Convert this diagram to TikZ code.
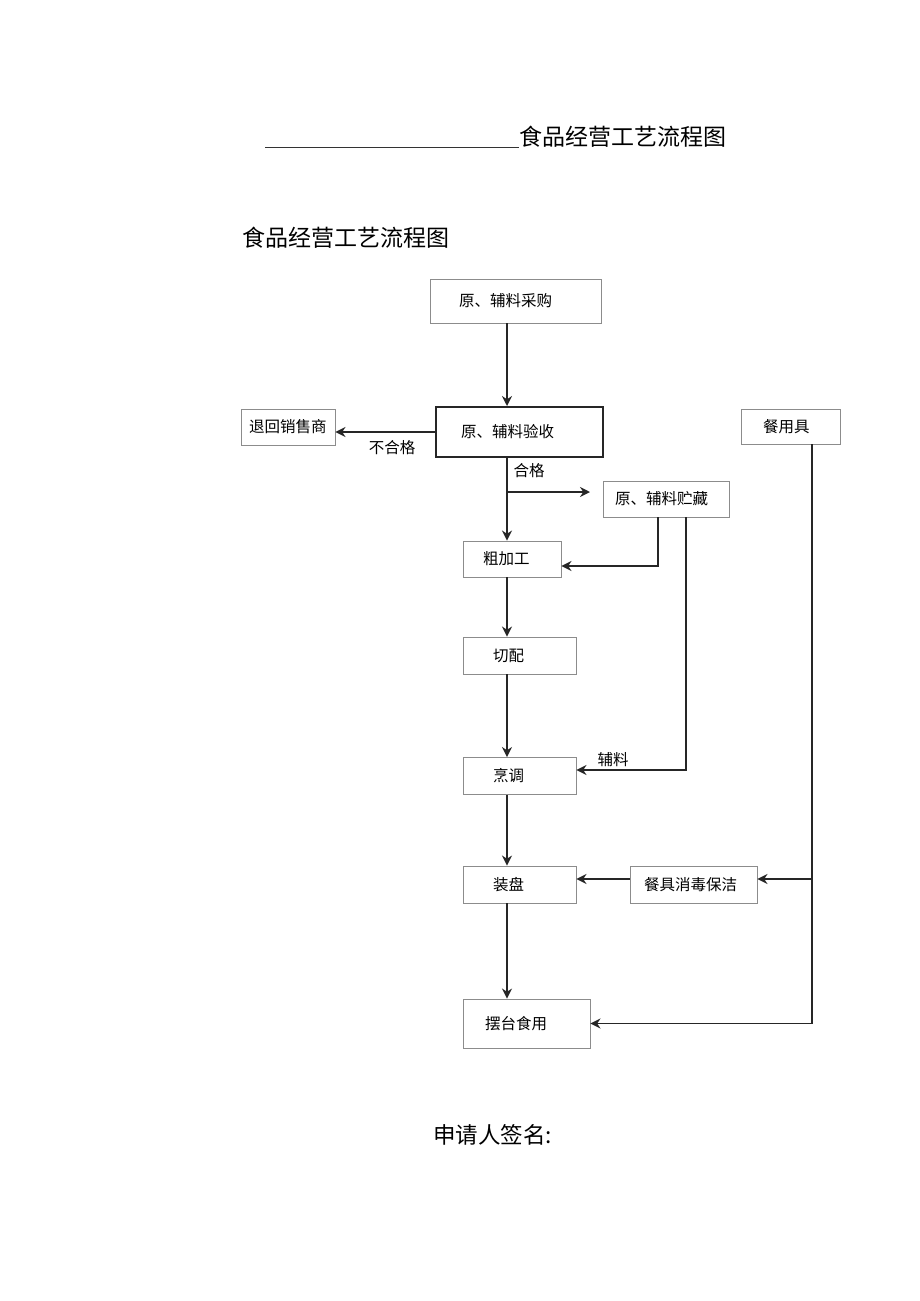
\documentclass[tikz,border=0pt]{standalone}
\usepackage{fontspec}
\setmainfont{Noto Sans CJK SC}
\usetikzlibrary{arrows.meta,positioning}

\begin{document}
\begin{tikzpicture}[x=1pt,y=-1pt,
  box/.style={draw=black!45,line width=0.9pt,minimum height=36pt,align=left,inner ysep=0pt,font=\fontsize{15.5}{18}\selectfont},
  arr/.style={draw=black!85,line width=1.6pt,-{Stealth[length=10pt,width=10pt]}},
  lbl/.style={inner sep=0pt,font=\fontsize{15.5}{18}\selectfont},
  head/.style={anchor=west,inner sep=0pt,font=\fontsize{23}{28}\selectfont}]
\useasboundingbox (0,0) rectangle (920,1301);

\node[head] (title) at (519,137) {食品经营工艺流程图};
\node[head] (heading) at (242,238) {食品经营工艺流程图};
\node[head,font=\fontsize{22.5}{27}\selectfont] (sign) at (433,1135) {申请人签名:};
\coordinate (ul) at (265,147);
\draw[line width=0.8pt,black!80] (ul) -- (ul -| title.west);

\node[box,text width=113pt,inner xsep=29pt,minimum height=44pt] (buy) at (515.5,301) {原、辅料采购};
\node[box,draw=black!85,line width=2pt,text width=117pt,inner xsep=25pt,minimum height=50pt] (check) at (519.5,432) {原、辅料验收};
\node[box,text width=78pt,inner xsep=8pt] (ret) at (288,427) {退回销售商};
\node[box,text width=55pt,inner xsep=22pt,minimum height=35pt] (ware) at (790.5,426.5) {餐用具};
\node[box,text width=102pt,inner xsep=12pt] (store) at (666,499) {原、辅料贮藏};
\node[box,text width=58pt,inner xsep=20pt] (rough) at (512,559) {粗加工};
\node[box,text width=53pt,inner xsep=30pt,minimum height=37pt] (cut) at (519.5,655.5) {切配};
\node[box,text width=53pt,inner xsep=30pt,minimum height=37pt] (cook) at (519.5,776) {烹调};
\node[box,text width=53pt,inner xsep=30pt,minimum height=37pt] (plate) at (519.5,884.5) {装盘};
\node[box,text width=99pt,inner xsep=14pt,minimum height=37pt] (clean) at (693.5,884.5) {餐具消毒保洁};
\node[box,text width=83pt,inner xsep=22pt,minimum height=49pt] (serve) at (526.5,1023.5) {摆台食用};

\node[lbl] (fail) at (392,448) {不合格};
\node[lbl] (pass) at (529,471) {合格};
\node[lbl] (aux) at (613,760) {辅料};

\coordinate (trunk) at (507,0);
\coordinate (fork) at (507,492);
\coordinate (forkend) at (590,492);
\coordinate (s1) at (658,566);
\coordinate (s2) at (686,770);
\coordinate (w) at (812,0);
\coordinate (w1) at (812,879);

\draw[arr] (buy.south -| trunk) -- (check.north -| trunk);
\draw[arr] (check.west) -- (check.west -| ret.east);
\draw[arr] (check.south -| trunk) -- (rough.north -| trunk);
\draw[arr] (fork) -- (forkend);
\draw[arr] (store.south -| s1) |- (rough.east |- s1);
\draw[arr] (store.south -| s2) |- (cook.east |- s2);
\draw[arr] (rough.south -| trunk) -- (cut.north -| trunk);
\draw[arr] (cut.south -| trunk) -- (cook.north -| trunk);
\draw[arr] (cook.south -| trunk) -- (plate.north -| trunk);
\draw[arr] (plate.south -| trunk) -- (serve.north -| trunk);
\draw[arr] (ware.south -| w) |- (serve.east);
\draw[arr] (w1) -- (clean.east |- w1);
\draw[arr] (clean.west |- w1) -- (plate.east |- w1);
\end{tikzpicture}
\end{document}
